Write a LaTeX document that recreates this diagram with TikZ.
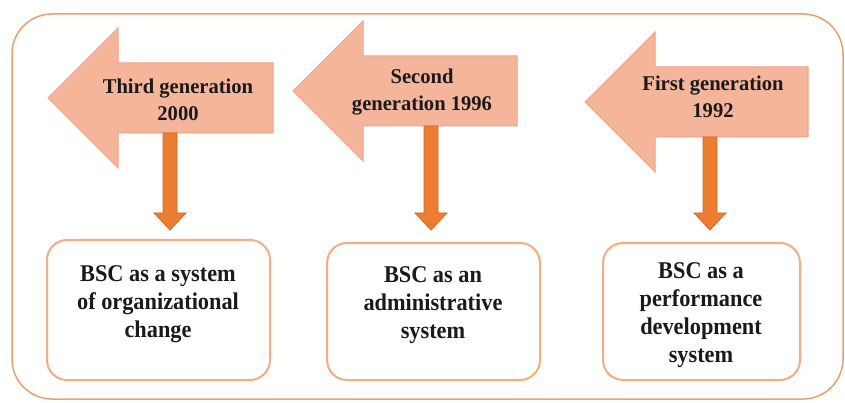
\documentclass[tikz,border=0pt]{standalone}
\usepackage{fontspec}
\setmainfont{Liberation Serif}
\newfontfamily\topfont{Liberation Serif}[FakeStretch=0.98]
\newfontfamily\boxfont{Liberation Serif}[FakeStretch=0.93]
\definecolor{arrfill}{HTML}{F5B59B}
\definecolor{arrline}{HTML}{EDA587}
\definecolor{darrfill}{HTML}{ED7D31}
\definecolor{darrline}{HTML}{D0692A}
\definecolor{boxline}{HTML}{F2AE80}
\definecolor{frameline}{HTML}{E8A070}
\definecolor{txt}{HTML}{1A1A1A}
\tikzset{
  bigarrow/.style={fill=arrfill,draw=arrline,line width=1pt},
  downarrow/.style={fill=darrfill,draw=darrline,line width=0.8pt},
  genbox/.style={draw=boxline,line width=2pt,rounded corners=20pt,fill=white},
  gentext/.style={text=txt,align=center,font=\topfont\fontsize{21}{27}\selectfont\bfseries},
  bsctext/.style={text=txt,align=center,font=\boxfont\fontsize{24}{28}\selectfont\bfseries},
}
\newcommand\bigarr[5]{% tipx, centery, headx, rightx, name
  \path[bigarrow] (#1,#2) -- (#3,#2-70) -- (#3,#2-35) -- (#4,#2-35) -- (#4,#2+35)
    -- (#3,#2+35) -- (#3,#2+70) -- cycle;
  \coordinate (#5) at (#1,#2);}
\newcommand\downarr[3]{% centerx, top y, name
  \path[downarrow] (#1-7,#2) -- (#1+7,#2) -- (#1+7,213) -- (#1+16,213) -- (#1,230)
    -- (#1-16,213) -- (#1-7,213) -- cycle;
  \coordinate (#3) at (#1,230);}
\begin{document}
\begin{tikzpicture}[x=1pt,y=-1pt]
\useasboundingbox (0,0) rectangle (845,403);
\fill[white] (0,0) rectangle (845,403);
\draw[frameline,line width=1.5pt,rounded corners=40pt] (12,14) rectangle (843,399);

% big arrows
\bigarr{48}{98}{118}{273}{tip1}
\bigarr{293}{91}{363}{517}{tip2}
\bigarr{585}{102}{655}{808}{tip3}

\node[gentext] (g1) at (178,100) {Third generation\\2000};
\node[gentext] (g2) at (422,92) {Second\\generation 1996};
\node[gentext] (g3) at (713,97) {First generation\\1992};

% down arrows
\downarr{170}{133}{d1}
\downarr{431}{126}{d2}
\downarr{710}{137}{d3}

% boxes
\node[genbox,minimum width=223pt,minimum height=140pt] (b1) at (158.5,310) {};
\node[genbox,minimum width=213pt,minimum height=137pt] (b2) at (433.5,311.5) {};
\node[genbox,minimum width=197pt,minimum height=137pt] (b3) at (701.5,311.5) {};

\node[bsctext] (t1) at (158,304) {BSC as a system\\of organizational\\change};
\node[bsctext] (t2) at (433,305) {BSC as an\\administrative\\system};
\node[bsctext] (t3) at (701,315) {BSC as a\\performance\\development\\system};
\end{tikzpicture}
\end{document}
